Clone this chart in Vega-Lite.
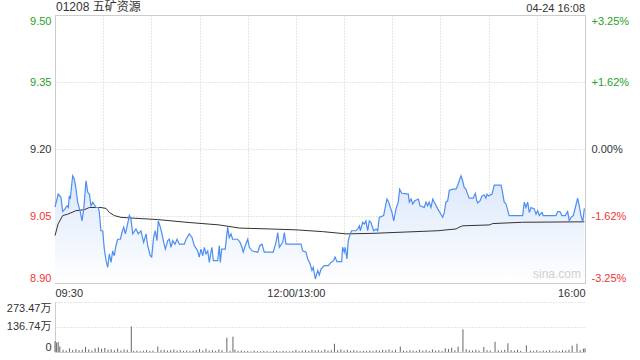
{
  "$schema": "https://vega.github.io/schema/vega-lite/v6.json",
  "padding": {"left": 6, "top": 0, "right": 4, "bottom": 2},
  "background": "white",
  "config": {
    "font": "Liberation Sans, Noto Sans CJK SC, sans-serif",
    "axis": {"labelFont": "Liberation Sans, Noto Sans CJK SC, sans-serif", "labelFontSize": 11, "titleFontSize": 11}
  },
  "datasets": {
    "price": [
      {"t":0,"p":9.07},{"t":2,"p":9.099},{"t":3.7,"p":9.092},{"t":4.8,"p":9.06},{"t":6.2,"p":9.066},{"t":7.5,"p":9.073},{"t":8.3,"p":9.069},{"t":8.9,"p":9.095},{"t":9.5,"p":9.088},{"t":11,"p":9.14},{"t":12,"p":9.133},{"t":13.1,"p":9.11},{"t":14.1,"p":9.081},{"t":15.8,"p":9.058},{"t":16.8,"p":9.039},{"t":17.9,"p":9.066},{"t":19.3,"p":9.129},{"t":20.4,"p":9.103},{"t":21.4,"p":9.099},{"t":22.4,"p":9.073},{"t":23.5,"p":9.081},{"t":25.5,"p":9.069},{"t":27,"p":9.069},{"t":27.6,"p":9.058},{"t":28.6,"p":9.017},{"t":29.7,"p":9.017},{"t":30.7,"p":8.976},{"t":31.8,"p":8.95},{"t":32.8,"p":8.935},{"t":33.8,"p":8.965},{"t":34.9,"p":8.946},{"t":35.9,"p":8.972},{"t":36.9,"p":8.961},{"t":38,"p":8.984},{"t":39,"p":8.998},{"t":40.7,"p":8.998},{"t":41.7,"p":9.013},{"t":42.8,"p":9.025},{"t":43.8,"p":9.01},{"t":44.8,"p":9.025},{"t":46.3,"p":9.051},{"t":47.3,"p":9.043},{"t":48.4,"p":9.01},{"t":50.4,"p":9.021},{"t":51.9,"p":9.01},{"t":53.5,"p":9.017},{"t":55.2,"p":8.991},{"t":56.7,"p":9.01},{"t":57.7,"p":8.984},{"t":59.3,"p":8.961},{"t":60.2,"p":8.958},{"t":61.4,"p":9.002},{"t":62.4,"p":9.017},{"t":63.5,"p":8.995},{"t":64.3,"p":9.039},{"t":65.6,"p":9.025},{"t":66.6,"p":9.01},{"t":67.7,"p":8.991},{"t":68.7,"p":8.976},{"t":70.2,"p":8.995},{"t":71.2,"p":8.998},{"t":72.2,"p":8.98},{"t":73.3,"p":8.995},{"t":74.7,"p":8.987},{"t":76,"p":8.998},{"t":77.4,"p":8.987},{"t":80.5,"p":8.987},{"t":81.6,"p":8.998},{"t":83.6,"p":9.01},{"t":85.3,"p":9.002},{"t":86.7,"p":8.984},{"t":88.8,"p":8.972},{"t":89.8,"p":8.958},{"t":90.9,"p":8.976},{"t":92,"p":8.961},{"t":93,"p":8.98},{"t":94,"p":8.965},{"t":95.1,"p":8.972},{"t":96.1,"p":8.946},{"t":97.1,"p":8.969},{"t":97.7,"p":8.98},{"t":98.6,"p":8.95},{"t":101.3,"p":8.95},{"t":102.3,"p":8.984},{"t":102.9,"p":8.946},{"t":103.8,"p":8.976},{"t":106,"p":8.976},{"t":107.5,"p":9.025},{"t":108.5,"p":9.002},{"t":109.6,"p":9.01},{"t":110.6,"p":8.998},{"t":113.7,"p":8.998},{"t":115.2,"p":8.991},{"t":116.4,"p":8.98},{"t":117.2,"p":8.969},{"t":118.5,"p":8.984},{"t":120,"p":8.998},{"t":121,"p":8.98},{"t":122.7,"p":8.972},{"t":126.2,"p":8.969},{"t":127.6,"p":8.984},{"t":128.9,"p":8.987},{"t":130.3,"p":8.969},{"t":135.9,"p":8.969},{"t":137.6,"p":8.991},{"t":138.7,"p":9.013},{"t":139.7,"p":8.98},{"t":141.8,"p":8.991},{"t":142.8,"p":9.013},{"t":143.8,"p":8.987},{"t":153.2,"p":8.987},{"t":154.2,"p":8.972},{"t":156.3,"p":8.969},{"t":157.3,"p":8.954},{"t":158.8,"p":8.943},{"t":160,"p":8.928},{"t":160.8,"p":8.935},{"t":162.1,"p":8.909},{"t":163.6,"p":8.928},{"t":164.6,"p":8.918},{"t":165.6,"p":8.931},{"t":167.7,"p":8.939},{"t":170.2,"p":8.939},{"t":171.8,"p":8.946},{"t":173.5,"p":8.95},{"t":174.3,"p":8.958},{"t":175.6,"p":8.948},{"t":178.5,"p":8.948},{"t":179.1,"p":8.98},{"t":180.1,"p":8.969},{"t":180.7,"p":8.98},{"t":181.8,"p":8.954},{"t":182.6,"p":8.995},{"t":183.8,"p":9.01},{"t":184.7,"p":9.017},{"t":187.4,"p":9.017},{"t":188.5,"p":9.021},{"t":189.5,"p":9.028},{"t":190.1,"p":9.017},{"t":191.6,"p":9.036},{"t":192.6,"p":9.032},{"t":193.6,"p":9.039},{"t":194.7,"p":9.017},{"t":195.7,"p":9.039},{"t":196.7,"p":9.036},{"t":198.4,"p":9.017},{"t":199.9,"p":9.021},{"t":200.9,"p":9.017},{"t":201.9,"p":9.047},{"t":204.6,"p":9.051},{"t":205.6,"p":9.069},{"t":206.7,"p":9.088},{"t":207.8,"p":9.081},{"t":208.8,"p":9.069},{"t":209.8,"p":9.058},{"t":210.9,"p":9.039},{"t":212.3,"p":9.066},{"t":213.7,"p":9.081},{"t":214.6,"p":9.11},{"t":215.9,"p":9.101},{"t":220,"p":9.099},{"t":220.6,"p":9.081},{"t":221.7,"p":9.088},{"t":222.7,"p":9.077},{"t":224.1,"p":9.084},{"t":226.2,"p":9.088},{"t":227.3,"p":9.073},{"t":229.9,"p":9.069},{"t":231,"p":9.081},{"t":232,"p":9.073},{"t":233,"p":9.081},{"t":234.1,"p":9.069},{"t":235.2,"p":9.088},{"t":236.2,"p":9.081},{"t":238.3,"p":9.066},{"t":240.3,"p":9.054},{"t":241.4,"p":9.047},{"t":242.4,"p":9.058},{"t":243.4,"p":9.081},{"t":244.5,"p":9.084},{"t":245.5,"p":9.107},{"t":247.6,"p":9.11},{"t":249.7,"p":9.11},{"t":251.1,"p":9.122},{"t":251.7,"p":9.129},{"t":252.8,"p":9.14},{"t":253.8,"p":9.129},{"t":254.8,"p":9.114},{"t":255.9,"p":9.11},{"t":256.9,"p":9.099},{"t":257.9,"p":9.09},{"t":260.4,"p":9.09},{"t":261.7,"p":9.101},{"t":262.6,"p":9.084},{"t":263.2,"p":9.079},{"t":264.6,"p":9.084},{"t":265.9,"p":9.095},{"t":267.3,"p":9.097},{"t":268.3,"p":9.09},{"t":269,"p":9.099},{"t":270,"p":9.095},{"t":272.1,"p":9.099},{"t":273.5,"p":9.119},{"t":277.7,"p":9.119},{"t":278.3,"p":9.11},{"t":279.7,"p":9.081},{"t":280.8,"p":9.077},{"t":282.8,"p":9.051},{"t":291.2,"p":9.051},{"t":292.2,"p":9.081},{"t":293.2,"p":9.069},{"t":294.3,"p":9.081},{"t":295.3,"p":9.058},{"t":296.4,"p":9.069},{"t":298.4,"p":9.066},{"t":299.5,"p":9.054},{"t":300.5,"p":9.062},{"t":301.5,"p":9.051},{"t":303.2,"p":9.058},{"t":304,"p":9.051},{"t":311.9,"p":9.051},{"t":313,"p":9.06},{"t":314.4,"p":9.06},{"t":315.6,"p":9.051},{"t":317.7,"p":9.051},{"t":319.2,"p":9.06},{"t":320.2,"p":9.039},{"t":321.3,"p":9.047},{"t":322.7,"p":9.051},{"t":324,"p":9.069},{"t":325.4,"p":9.09},{"t":326.4,"p":9.073},{"t":327.5,"p":9.051},{"t":328.6,"p":9.037},{"t":329.6,"p":9.067}
    ],
    "avg": [
      {"t":0,"a":9.006},{"t":1.9,"a":9.032},{"t":4.8,"a":9.051},{"t":7.9,"a":9.054},{"t":13.1,"a":9.062},{"t":18.2,"a":9.064},{"t":21.4,"a":9.069},{"t":28.6,"a":9.069},{"t":31.8,"a":9.067},{"t":33.8,"a":9.058},{"t":36.9,"a":9.051},{"t":41.1,"a":9.047},{"t":49.4,"a":9.045},{"t":63.9,"a":9.042},{"t":81.6,"a":9.036},{"t":102.3,"a":9.03},{"t":114.7,"a":9.023},{"t":133.4,"a":9.021},{"t":150,"a":9.019},{"t":166.7,"a":9.015},{"t":181.2,"a":9.01},{"t":196.7,"a":9.011},{"t":217.5,"a":9.014},{"t":238.3,"a":9.017},{"t":249.7,"a":9.021},{"t":251.7,"a":9.025},{"t":253.8,"a":9.028},{"t":270.4,"a":9.03},{"t":272.5,"a":9.033},{"t":291.2,"a":9.036},{"t":329.6,"a":9.037}
    ],
    "vol": [
      {"t":0,"v":60},{"t":1,"v":52},{"t":2,"v":55},{"t":3,"v":30},{"t":5,"v":12},{"t":7,"v":8},{"t":9,"v":20},{"t":11,"v":10},{"t":13,"v":15},{"t":15,"v":10},{"t":17,"v":12},{"t":19,"v":28},{"t":21,"v":14},{"t":23,"v":8},{"t":25,"v":20},{"t":27,"v":25},{"t":29,"v":18},{"t":31,"v":22},{"t":33,"v":12},{"t":35,"v":15},{"t":37,"v":10},{"t":39,"v":18},{"t":41,"v":8},{"t":43,"v":14},{"t":45,"v":12},{"t":47.5,"v":140},{"t":49,"v":6},{"t":51,"v":8},{"t":53,"v":5},{"t":55,"v":7},{"t":57,"v":10},{"t":59,"v":6},{"t":61,"v":8},{"t":64,"v":30},{"t":66,"v":10},{"t":68,"v":12},{"t":70,"v":8},{"t":72,"v":10},{"t":74,"v":14},{"t":76,"v":8},{"t":78,"v":10},{"t":80,"v":6},{"t":82,"v":8},{"t":84,"v":5},{"t":86,"v":8},{"t":88,"v":10},{"t":90,"v":16},{"t":92,"v":8},{"t":94,"v":18},{"t":96,"v":8},{"t":98,"v":10},{"t":100,"v":6},{"t":102,"v":14},{"t":104,"v":10},{"t":107,"v":78},{"t":109,"v":6},{"t":110.8,"v":84},{"t":112,"v":12},{"t":114,"v":6},{"t":116,"v":8},{"t":118,"v":5},{"t":120,"v":6},{"t":122,"v":4},{"t":124,"v":8},{"t":126,"v":5},{"t":128,"v":4},{"t":130,"v":6},{"t":132,"v":5},{"t":134,"v":3},{"t":136,"v":5},{"t":138,"v":8},{"t":140,"v":4},{"t":142,"v":6},{"t":144,"v":5},{"t":146,"v":4},{"t":148,"v":6},{"t":150,"v":12},{"t":152,"v":5},{"t":154,"v":8},{"t":156,"v":10},{"t":158,"v":6},{"t":160,"v":12},{"t":162,"v":8},{"t":164,"v":10},{"t":166,"v":6},{"t":168,"v":14},{"t":170,"v":8},{"t":172,"v":10},{"t":174,"v":45},{"t":176,"v":10},{"t":178,"v":14},{"t":180,"v":8},{"t":182,"v":12},{"t":184,"v":6},{"t":186,"v":10},{"t":188,"v":8},{"t":190,"v":5},{"t":192,"v":7},{"t":194,"v":6},{"t":196,"v":8},{"t":198,"v":6},{"t":200,"v":10},{"t":202,"v":8},{"t":204,"v":12},{"t":206,"v":10},{"t":208,"v":14},{"t":210,"v":8},{"t":212,"v":12},{"t":215,"v":30},{"t":217,"v":8},{"t":219,"v":6},{"t":221,"v":10},{"t":223,"v":8},{"t":225,"v":6},{"t":227,"v":12},{"t":229,"v":8},{"t":231,"v":10},{"t":233,"v":6},{"t":235,"v":14},{"t":237,"v":8},{"t":239,"v":10},{"t":241,"v":6},{"t":243,"v":20},{"t":245,"v":16},{"t":247,"v":24},{"t":249,"v":10},{"t":251,"v":30},{"t":254,"v":124},{"t":256,"v":15},{"t":258,"v":10},{"t":260,"v":8},{"t":262,"v":12},{"t":264,"v":8},{"t":267,"v":28},{"t":269,"v":10},{"t":271,"v":8},{"t":274,"v":56},{"t":276,"v":10},{"t":278,"v":8},{"t":280,"v":12},{"t":282,"v":48},{"t":284,"v":10},{"t":286,"v":8},{"t":288,"v":12},{"t":290,"v":6},{"t":293.5,"v":36},{"t":296,"v":8},{"t":298,"v":6},{"t":300,"v":10},{"t":302,"v":5},{"t":304,"v":8},{"t":306,"v":6},{"t":308,"v":10},{"t":310,"v":5},{"t":312,"v":8},{"t":314,"v":6},{"t":316,"v":10},{"t":318,"v":8},{"t":320,"v":12},{"t":322,"v":35},{"t":325,"v":45},{"t":327,"v":10},{"t":329,"v":18},{"t":330,"v":20}
    ]
  },
  "spacing": 3,
  "vconcat": [
    {
      "width": 530,
      "height": 268,
      "view": {"stroke": "#cccccc"},
      "resolve": {"axis": {"y": "independent"}},
      "layer": [
        {
          "data": {"name": "price"},
          "mark": {"type": "area", "fill": {"gradient": "linear", "x1": 0, "y1": 0, "x2": 0, "y2": 1, "stops": [{"offset": 0, "color": "#dbe7fb"}, {"offset": 1, "color": "#ffffff"}]}},
          "encoding": {
            "x": {"field": "t", "type": "quantitative", "scale": {"domain": [0, 330], "nice": false},
              "axis": {"values": [0,30,60,90,120,150,180,210,240,270,300,330], "labelExpr": "datum.value == 0 ? '09:30' : datum.value == 150 ? '12:00/13:00' : datum.value == 330 ? '16:00' : ''", "labelFlush": true, "labelOverlap": false, "ticks": false, "domain": false, "grid": true, "gridColor": "#cccccc", "gridDash": [1, 2], "labelColor": "#333", "labelPadding": 4, "title": null}},
            "y": {"field": "p", "type": "quantitative", "scale": {"domain": [8.9, 9.5], "nice": false, "zero": false},
              "axis": {"orient": "left", "values": [8.9, 9.05, 9.2, 9.35, 9.5], "format": ".2f", "labelFlush": true, "ticks": false, "domain": false, "grid": true, "gridColor": "#cccccc", "gridDash": [1, 2], "labelPadding": 4, "title": null,
                "labelColor": {"condition": [{"test": "datum.value > 9.201", "value": "#26a226"}, {"test": "datum.value < 9.199", "value": "#f23535"}], "value": "#333333"}}},
            "y2": {"datum": 8.9}
          }
        },
        {
          "data": {"name": "avg"},
          "mark": {"type": "line", "color": "#333333", "strokeWidth": 1},
          "encoding": {
            "x": {"field": "t", "type": "quantitative"},
            "y": {"field": "a", "type": "quantitative",
              "axis": {"orient": "right", "values": [8.9, 9.05, 9.2, 9.35, 9.5], "labelFlush": true, "ticks": false, "domain": false, "grid": false, "labelPadding": 6, "title": null,
                "labelExpr": "datum.value > 9.45 ? '+3.25%' : datum.value > 9.3 ? '+1.62%' : datum.value > 9.15 ? '0.00%' : datum.value > 9 ? '-1.62%' : '-3.25%'",
                "labelColor": {"condition": [{"test": "datum.value > 9.201", "value": "#26a226"}, {"test": "datum.value < 9.199", "value": "#f23535"}], "value": "#333333"}}}
          }
        },
        {
          "data": {"name": "price"},
          "mark": {"type": "line", "color": "#4d8ef0", "strokeWidth": 1.2},
          "encoding": {
            "x": {"field": "t", "type": "quantitative"},
            "y": {"field": "p", "type": "quantitative", "axis": null}
          }
        },
        {
          "data": {"values": [{"label": "04-24 16:08"}]},
          "mark": {"type": "text", "align": "right", "baseline": "bottom", "dy": -1, "fontSize": 11, "color": "#333"},
          "encoding": {"x": {"datum": 330}, "y": {"datum": 9.5, "axis": null}, "text": {"field": "label"}}
        },
        {
          "data": {"values": [{"label": "01208 五矿资源"}]},
          "mark": {"type": "text", "align": "left", "baseline": "bottom", "dy": -1, "dx": 1, "fontSize": 12, "color": "#333"},
          "encoding": {"x": {"datum": 0}, "y": {"datum": 9.5, "axis": null}, "text": {"field": "label"}}
        },
        {
          "data": {"values": [{"label": "sina.com"}]},
          "mark": {"type": "text", "align": "right", "baseline": "bottom", "dy": -2, "dx": -4, "fontSize": 12, "color": "#d0d0d0"},
          "encoding": {"x": {"datum": 330}, "y": {"datum": 8.9, "axis": null}, "text": {"field": "label"}}
        }
      ]
    },
    {
      "width": 530,
      "height": 50,
      "view": {"stroke": null},
      "data": {"name": "vol"},
      "mark": {"type": "rule", "color": "#666666", "strokeWidth": 1},
      "encoding": {
        "x": {"field": "t", "type": "quantitative", "scale": {"domain": [0, 330], "nice": false},
          "axis": {"labels": false, "ticks": false, "grid": false, "domain": true, "domainColor": "#cccccc", "title": null}},
        "y": {"field": "v", "type": "quantitative", "scale": {"domain": [0, 273.47], "nice": false},
          "axis": {"values": [0, 136.74, 273.47], "labelExpr": "datum.value == 0 ? '0' : format(datum.value, '.2f') + '万'", "labelFlush": true, "ticks": false, "domain": true, "domainColor": "#cccccc", "grid": true, "gridColor": "#cccccc", "gridDash": [1, 2], "labelColor": "#333", "labelPadding": 4, "title": null}},
        "y2": {"datum": 0}
      }
    }
  ]
}
